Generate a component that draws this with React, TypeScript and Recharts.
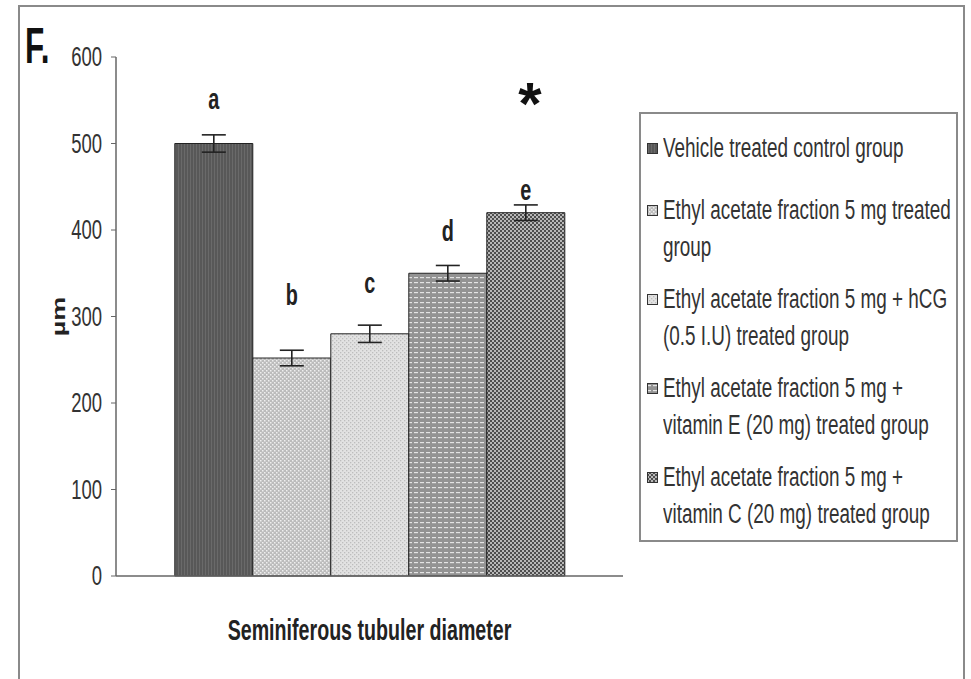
import {
  Bar,
  BarChart,
  ErrorBar,
  LabelList,
  Legend,
  XAxis,
  YAxis,
} from "recharts";

const FONT = "'Liberation Sans', Arial, sans-serif";
// the original figure is squeezed sideways, so every text is narrowed
const SX = 0.66;

const CATEGORY = "Seminiferous tubuler diameter";
const GROUPS = [
  "Vehicle treated control group",
  "Ethyl acetate fraction 5 mg treated\ngroup",
  "Ethyl acetate fraction 5 mg + hCG\n(0.5 I.U) treated group",
  "Ethyl acetate fraction 5 mg +\nvitamin E (20 mg) treated group",
  "Ethyl acetate fraction 5 mg +\nvitamin C (20 mg) treated group",
];
const MEANS = [500, 252, 280, 350, 420];
const ERRORS = [10, 9, 10, 9, 9];
const LETTERS = ["a", "b", "c", "d", "e"];
// where each letter sits, in axis units
const LETTER_AT = [552, 326, 339, 400, 447];
const STAR_AT = 555;
const Y_TICKS = [0, 100, 200, 300, 400, 500, 600];

const row: Record<string, string | number> = { name: CATEGORY };
MEANS.forEach((v, i) => {
  row[`g${i}`] = v;
  row[`e${i}`] = ERRORS[i];
});
const chartData = [row];

function Patterns() {
  return (
    <defs>
      <pattern id="pat0" width="3" height="4" patternUnits="userSpaceOnUse">
        <rect width="3" height="4" fill="#585858" />
        <rect x="1" width="1" height="4" fill="#6a6a6a" />
      </pattern>
      <pattern id="pat1" width="4" height="4" patternUnits="userSpaceOnUse">
        <rect width="4" height="4" fill="#bcbcbc" />
        <rect x="0" y="0" width="1.5" height="1.5" fill="#efefef" />
        <rect x="2" y="2" width="1.5" height="1.5" fill="#efefef" />
      </pattern>
      <pattern id="pat2" width="4" height="4" patternUnits="userSpaceOnUse">
        <rect width="4" height="4" fill="#e2e2e2" />
        <rect x="0" y="0" width="1.3" height="1.3" fill="#bdbdbd" />
        <rect x="2" y="2" width="1.3" height="1.3" fill="#bdbdbd" />
      </pattern>
      <pattern id="pat3" width="6" height="5" patternUnits="userSpaceOnUse">
        <rect width="6" height="5" fill="#939393" />
        <rect x="0" y="2" width="4" height="1.2" fill="#e4e4e4" />
      </pattern>
      <pattern id="pat4" width="4" height="4" patternUnits="userSpaceOnUse">
        <rect width="4" height="4" fill="#4e4e4e" />
        <rect x="0" y="0" width="2" height="2" fill="#b8b8b8" />
        <rect x="2" y="2" width="2" height="2" fill="#b8b8b8" />
      </pattern>
    </defs>
  );
}

function makeLetter(i: number) {
  return (p: any) => {
    const { x, y, width, height } = p;
    const perUnit = height / MEANS[i];
    const base = y + height;
    const cx = x + width / 2;
    const ly = base - LETTER_AT[i] * perUnit;
    return (
      <g>
        <g transform={`translate(${cx},${ly}) scale(${SX},1)`}>
          <text
            textAnchor="middle"
            dominantBaseline="central"
            fontFamily={FONT}
            fontWeight="bold"
            fontSize={30}
            fill="#222"
          >
            {LETTERS[i]}
          </text>
        </g>
        {i === 4 && (
          <text
            x={cx + 4}
            y={base - STAR_AT * perUnit + 8}
            textAnchor="middle"
            dominantBaseline="central"
            fontFamily={FONT}
            fontWeight="bold"
            fontSize={60}
            fill="#111"
          >
            *
          </text>
        )}
      </g>
    );
  };
}

function LegendBox() {
  return (
    <div
      style={{
        boxSizing: "border-box",
        width: 319,
        height: 430,
        border: "2px solid #8a8a8a",
        padding: "16px 6px 0 6px",
        fontFamily: FONT,
        fontSize: 27,
        color: "#333",
        textAlign: "left",
      }}
    >
      {GROUPS.map((g, i) => (
        <div
          key={i}
          style={{
            display: "flex",
            alignItems: "flex-start",
            marginBottom: i === 0 ? 25 : 15,
          }}
        >
          <svg width={11} height={11} style={{ marginTop: 13, marginRight: 5, flex: "none" }}>
            <rect x={0.5} y={0.5} width={10} height={10} fill={`url(#pat${i})`} stroke="#333" />
          </svg>
          <div>
            {g.split("\n").map((line, k) => (
              <div key={k} style={{ height: 37, lineHeight: "37px", whiteSpace: "nowrap" }}>
                <span
                  style={{
                    display: "inline-block",
                    transform: `scaleX(0.7)`,
                    transformOrigin: "left center",
                  }}
                >
                  {line}
                </span>
              </div>
            ))}
          </div>
        </div>
      ))}
    </div>
  );
}

function CategoryTick(props: any) {
  const { x, y, payload } = props;
  return (
    <g transform={`translate(${x},${y + 62}) scale(0.655,1)`}>
      <text textAnchor="middle" fontFamily={FONT} fontWeight="bold" fontSize={30} fill="#222">
        {payload.value}
      </text>
    </g>
  );
}

function ValueTick(props: any) {
  const { x, y, payload } = props;
  return (
    <g transform={`translate(${x},${y}) scale(${SX},1)`}>
      <text textAnchor="end" dominantBaseline="central" fontFamily={FONT} fontSize={28} fill="#333">
        {payload.value}
      </text>
    </g>
  );
}

function UnitLabel(props: any) {
  const { viewBox } = props;
  const x = viewBox.x + 3;
  const y = viewBox.y + viewBox.height / 2;
  return (
    <g transform={`translate(${x},${y}) scale(${SX},1) rotate(-90)`}>
      <text
        textAnchor="middle"
        dominantBaseline="central"
        fontFamily={FONT}
        fontWeight="bold"
        fontSize={27}
        fill="#222"
      >
        µm
      </text>
    </g>
  );
}

export default function App() {
  return (
    <div
      style={{
        position: "fixed",
        left: 0,
        top: 0,
        width: 971,
        height: 679,
        overflow: "hidden",
        background: "#fff",
      }}
    >
      <div
        style={{
          position: "absolute",
          left: 18,
          top: 5,
          width: 947,
          height: 720,
          border: "2px solid #8a8a8a",
          boxSizing: "border-box",
        }}
      />
      <svg
        width={80}
        height={80}
        style={{ position: "absolute", left: 0, top: 0 }}
      >
        <g transform="translate(25,63) scale(0.63,1)">
          <text fontFamily={FONT} fontWeight="bold" fontSize={50} fill="#111">
            F.
          </text>
        </g>
      </svg>
      <BarChart
        width={971}
        height={679}
        data={chartData}
        margin={{ top: 57, right: 348, left: 56, bottom: 13 }}
        barCategoryGap="11.6%"
        barGap={0}
        style={{ position: "absolute", left: 0, top: 0 }}
      >
        <Patterns />
        <XAxis
          dataKey="name"
          height={90}
          tickLine={false}
          tickSize={0}
          tick={<CategoryTick />}
          axisLine={{ stroke: "#666", strokeWidth: 1.5 }}
        />
        <YAxis
          width={60}
          domain={[0, 600]}
          ticks={Y_TICKS}
          tickSize={5}
          tickMargin={9}
          axisLine={{ stroke: "#666", strokeWidth: 1.5 }}
          tickLine={{ stroke: "#666" }}
          tick={<ValueTick />}
          label={<UnitLabel />}
        />
        <Legend
          layout="vertical"
          align="center"
          verticalAlign="middle"
          wrapperStyle={{ left: 639, top: 112, width: 319, height: 430 }}
          content={<LegendBox />}
        />
        {GROUPS.map((g, i) => (
          <Bar
            key={g}
            dataKey={`g${i}`}
            name={g}
            fill={`url(#pat${i})`}
            stroke="#222"
            strokeWidth={1}
            isAnimationActive={false}
          >
            <ErrorBar dataKey={`e${i}`} width={12} stroke="#222" strokeWidth={1.6} />
            <LabelList dataKey={`g${i}`} content={makeLetter(i)} />
          </Bar>
        ))}
      </BarChart>
    </div>
  );
}
